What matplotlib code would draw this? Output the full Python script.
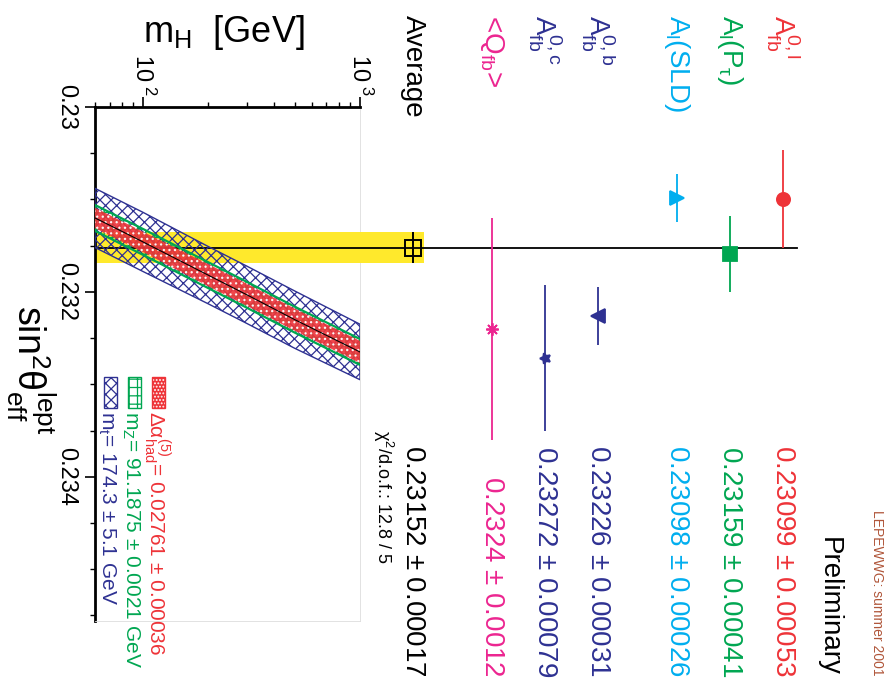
import matplotlib.pyplot as plt
from matplotlib.patches import Rectangle
from matplotlib.ticker import LogLocator, MultipleLocator, FixedLocator, NullFormatter
from matplotlib.transforms import blended_transform_factory

plt.rcParams["font.family"] = ["Liberation Sans", "DejaVu Sans"]
plt.rcParams["mathtext.fontset"] = "custom"
plt.rcParams["mathtext.rm"] = "Liberation Sans"
plt.rcParams["mathtext.it"] = "Liberation Sans"
plt.rcParams["mathtext.default"] = "regular"
plt.rcParams["hatch.linewidth"] = 0.9

# sin^2(theta_eff^lept) measurements
names = [r"$A_{fb}^{0,l}$", r"$A_l(P_\tau)$", r"$A_l(SLD)$",
         r"$A_{fb}^{0,b}$", r"$A_{fb}^{0,c}$", r"<$Q_{fb}$>"]
sin2 = [0.23099, 0.23159, 0.23098, 0.23226, 0.23272, 0.2324]
sin2_err = [0.00053, 0.00041, 0.00026, 0.00031, 0.00079, 0.0012]

avg = 0.23152
avg_err = 0.00017
chi2_text = r"$\chi^2$/d.o.f.: 12.8 / 5"

# SM prediction vs Higgs mass, with parametric uncertainty bands
mh = [60, 100, 200, 300, 500, 1000]
sm_center = [0.23120, 0.23146, 0.23182, 0.23203, 0.23230, 0.23265]
dalpha_hw = [0.00011, 0.00011, 0.00012, 0.00012, 0.00012, 0.00012]
mz_hw = [0.00014, 0.00014, 0.00014, 0.00014, 0.00014, 0.00014]
mt_hw = [0.00032, 0.00032, 0.00031, 0.00031, 0.00031, 0.00030]
band_labels = [r"$\Delta\alpha^{(5)}_{had}$= 0.02761 $\pm$ 0.00036",
               r"$m_Z$= 91.1875 $\pm$ 0.0021 GeV",
               r"$m_t$= 174.3 $\pm$ 5.1 GeV"]

red = "#ee3338"
green = "#00a651"
cyan = "#00aeef"
navy = "#2e3192"
magenta = "#ec2590"
yellow = "#ffe92c"
brown = "#b0563a"

colors = [red, green, cyan, navy, navy, magenta]
markers = ["o", "s", ">", "<", (5, 1, 90), (8, 2, 0)]
msizes = [9.5, 9.5, 10, 10, 8, 9]
row_pos = [7, 6, 5, 3.5, 2.5, 1.5]
avg_pos = 0

W, H = 893, 682
fig = plt.figure(figsize=(W / 100, H / 100), dpi=100)


def fx(x):
    return x / W


def fy(y):
    return 1 - y / H


ymin, ymax = 0.23, 0.23556

# lower-left panel: sin^2 vs m_H
axA = fig.add_axes([fx(95), fy(621), (360 - 95) / W, (621 - 107) / H])
axA.set_xscale("log")
axA.set_xlim(60, 1000)
axA.set_ylim(ymax, ymin)

axA.axhspan(avg - avg_err, avg + avg_err, color=yellow, lw=0, zorder=1)
axA.axhline(avg, color="k", lw=1.3, zorder=2)

lo = [c - w for c, w in zip(sm_center, mt_hw)]
hi = [c + w for c, w in zip(sm_center, mt_hw)]
axA.fill_between(mh, lo, hi, facecolor="none", edgecolor=navy, hatch="xxx", lw=1.0, zorder=3)
lo = [c - w for c, w in zip(sm_center, mz_hw)]
hi = [c + w for c, w in zip(sm_center, mz_hw)]
axA.fill_between(mh, lo, hi, facecolor="none", edgecolor=green, hatch="++", lw=1.6, zorder=4)
lo = [c - w for c, w in zip(sm_center, dalpha_hw)]
hi = [c + w for c, w in zip(sm_center, dalpha_hw)]
axA.fill_between(mh, lo, hi, facecolor=red, alpha=0.9, edgecolor="white", hatch="...", lw=0, zorder=5)
axA.plot(mh, sm_center, color="k", lw=0.8, zorder=6)

for side in ("left", "top"):
    axA.spines[side].set_linewidth(2)
for side in ("right", "bottom"):
    axA.spines[side].set_linewidth(0.6)
    axA.spines[side].set_color("#dddddd")

axA.xaxis.tick_top()
axA.xaxis.set_major_locator(FixedLocator([100, 1000]))
axA.xaxis.set_minor_locator(LogLocator(base=10, subs=range(2, 10)))
axA.xaxis.set_minor_formatter(NullFormatter())
axA.set_xticklabels([r"$10^{\ 2}$", r"$10^{\ 3}$"], rotation=-90, fontsize=17)
axA.tick_params(axis="x", which="major", length=7, width=1.2, pad=1, top=True, bottom=False)
axA.tick_params(axis="x", which="minor", length=3.6, width=1.0, top=True, bottom=False)

axA.yaxis.set_major_locator(FixedLocator([0.230, 0.232, 0.234]))
axA.yaxis.set_minor_locator(MultipleLocator(0.0005))
axA.set_yticklabels(["0.23", "0.232", "0.234"], rotation=-90, va="center", fontsize=17)
axA.tick_params(axis="y", which="major", length=7, width=1.2, pad=6, right=False)
axA.tick_params(axis="y", which="minor", length=3.6, width=1.0, right=False)

fig.text(fx(143), fy(42), r"$m_H$  [GeV]", fontsize=26, ha="left", va="baseline")
fig.text(fx(31), fy(305), r"$sin^2\theta^{lept}_{eff}$", fontsize=27,
         rotation=-90, ha="center", va="top")

# legend keys for the bands
key_specs = [(152, red, "white", "....."), (128, "white", green, "++"), (104, "white", navy, "xxx")]
key_edges = [red, green, navy]
for (kx, fc, hc, hatch), ec in zip(key_specs, key_edges):
    fig.add_artist(Rectangle((fx(kx), fy(408)), 13 / W, 31 / H, transform=fig.transFigure,
                             facecolor=fc, edgecolor=hc, hatch=hatch, lw=0))
    fig.add_artist(Rectangle((fx(kx), fy(408)), 13 / W, 31 / H, transform=fig.transFigure,
                             facecolor="none", edgecolor=ec, lw=1.0))
for lx, text, col in zip([157, 131, 107], band_labels, key_edges):
    fig.text(fx(lx), fy(411), text, color=col, fontsize=15, rotation=-90, ha="center", va="top")

# right panel: individual measurements
axB = fig.add_axes([fx(360), fy(621), (893 - 360) / W, (621 - 107) / H])
axB.set_xlim(-1.004, 9.09)
axB.set_ylim(ymax, ymin)
axB.axis("off")
tB = blended_transform_factory(axB.transData, fig.transFigure)

axB.fill_between([-1.004, 0.21], avg - avg_err, avg + avg_err, color=yellow, lw=0, zorder=1)
axB.plot([-1.004, 7.27], [avg, avg], color="k", lw=1.3, zorder=2)
axB.errorbar([avg_pos], [avg], yerr=[avg_err], fmt="s", ms=11, mfc="none", mec="k",
             mew=1.4, ecolor="k", elinewidth=1.4, zorder=4)

for x, v, e, c, m, ms in zip(row_pos, sin2, sin2_err, colors, markers, msizes):
    axB.errorbar([x], [v], yerr=[e], fmt="none", ecolor=c, elinewidth=1.3, zorder=3)
    axB.plot([x], [v], marker=m, ms=ms, color=c, mec=c, mew=1.3, ls="none", zorder=4)

for x, name, v, e, c in zip(row_pos, names, sin2, sin2_err, colors):
    axB.text(x, fy(15), name, transform=tB, color=c, fontsize=20, rotation=-90,
             ha="center", va="top")
    axB.text(x, fy(677), f"{v} $\\pm$ {e}", transform=tB, color=c, fontsize=20,
             rotation=-90, ha="center", va="bottom")

axB.text(avg_pos, fy(15), "Average", transform=tB, fontsize=20, rotation=-90,
         ha="center", va="top")
axB.text(avg_pos, fy(677), f"{avg} $\\pm$ {avg_err}", transform=tB, fontsize=20,
         rotation=-90, ha="center", va="bottom")
axB.text(avg_pos - 0.57, fy(430), chi2_text, transform=tB, fontsize=13,
         rotation=-90, ha="center", va="top")

fig.text(fx(829), fy(676), "Preliminary", fontsize=20, rotation=-90, ha="center", va="bottom")
fig.text(fx(877), fy(676), "LEPEWWG: summer 2001", fontsize=10, color=brown,
         rotation=-90, ha="center", va="bottom")

fig.savefig("out.png", dpi=100)
